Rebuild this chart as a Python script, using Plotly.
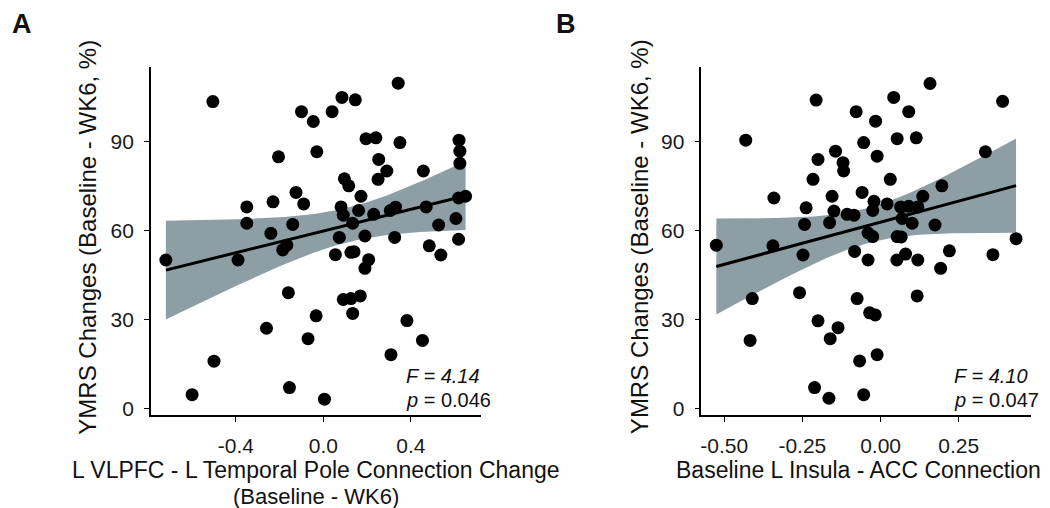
import numpy as np
import plotly.graph_objects as go

# Panel A data: L VLPFC - L Temporal Pole connection change vs YMRS change
a_x = [-0.72, -0.60, -0.505, -0.50, -0.39, -0.35, -0.35, -0.26, -0.24, -0.23,
       -0.205, -0.186, -0.167, -0.16, -0.155, -0.14, -0.125, -0.10, -0.09, -0.07,
       -0.046, -0.033, -0.03, 0.005, 0.04, 0.055, 0.073, 0.081, 0.085, 0.091,
       0.091, 0.096, 0.116, 0.126, 0.126, 0.134, 0.134, 0.14, 0.146, 0.161,
       0.169, 0.172, 0.19, 0.19, 0.195, 0.207, 0.23, 0.24, 0.25, 0.253,
       0.29, 0.306, 0.309, 0.326, 0.33, 0.342, 0.35, 0.382, 0.453, 0.457,
       0.47, 0.484, 0.527, 0.537, 0.606, 0.618, 0.618, 0.62, 0.624, 0.624, 0.65]
a_y = [50.2, 4.8, 103.6, 16.1, 50.2, 68.1, 62.6, 27.2, 59.2, 69.8,
       85.0, 53.6, 55.2, 39.2, 7.2, 62.2, 73.0, 100.2, 69.1, 23.7,
       96.9, 31.4, 86.7, 3.3, 100.2, 52.0, 57.8, 68.1, 105.0, 65.3,
       36.9, 77.6, 75.2, 52.8, 37.2, 62.6, 32.2, 53.0, 104.2, 66.9,
       38.1, 71.7, 58.3, 47.4, 91.1, 50.3, 65.6, 91.4, 77.4, 84.1,
       80.2, 66.9, 18.3, 57.8, 68.0, 109.8, 89.8, 29.8, 23.1, 80.2,
       68.1, 55.0, 62.0, 51.9, 64.2, 57.2, 71.1, 90.6, 86.9, 82.8, 71.7]

# Panel B data: Baseline L Insula - ACC connection vs YMRS change
b_x = [-0.525, -0.431, -0.417, -0.41, -0.344, -0.341, -0.259, -0.248, -0.243, -0.238,
       -0.216, -0.211, -0.206, -0.20, -0.20, -0.165, -0.163, -0.161, -0.155, -0.149,
       -0.144, -0.136, -0.12, -0.118, -0.107, -0.085, -0.083, -0.078, -0.075, -0.067,
       -0.059, -0.054, -0.054, -0.04, -0.04, -0.035, -0.025, -0.025, -0.021, -0.017,
       -0.016, -0.011, -0.011, 0.021, 0.031, 0.042, 0.052, 0.053, 0.053, 0.064,
       0.066, 0.069, 0.08, 0.09, 0.09, 0.101, 0.114, 0.117, 0.119, 0.119,
       0.135, 0.158, 0.174, 0.192, 0.196, 0.22, 0.335, 0.359, 0.39, 0.433]
b_y = [55.2, 90.6, 23.1, 37.2, 55.0, 71.1, 39.2, 51.9, 62.2, 67.8,
       77.4, 7.2, 104.1, 84.1, 29.7, 3.6, 62.8, 23.7, 71.7, 66.7,
       86.9, 27.4, 83.0, 80.2, 65.6, 65.3, 53.1, 100.2, 37.2, 16.2,
       73.0, 89.8, 4.8, 59.3, 50.2, 32.4, 66.9, 58.1, 70.0, 31.7,
       97.0, 85.2, 18.3, 69.1, 77.4, 105.0, 50.2, 91.1, 58.1, 68.1,
       58.0, 64.2, 52.2, 100.2, 68.3, 62.6, 91.4, 38.1, 68.1, 50.2,
       71.7, 109.7, 62.0, 47.4, 75.2, 53.3, 86.7, 52.0, 103.7, 57.4]

a_stats = ["<i>F = 4.14</i>", "<i>p</i> = 0.046"]
b_stats = ["<i>F = 4.10</i>", "<i>p</i> = 0.047"]

a_ticks = [-0.4, 0.0, 0.4]
a_ticktext = ["-0.4", "0.0", "0.4"]
b_ticks = [-0.50, -0.25, 0.00, 0.25]
b_ticktext = ["-0.50", "-0.25", "0.00", "0.25"]
y_ticks = [0, 30, 60, 90]

W, H = 1050, 508
FONT = "Liberation Sans, Arial, sans-serif"
BAND = "#8e9ea5"
T_CRIT = 1.995  # t(0.975, df=68)


def px(x):
    return x / W


def py(y):
    return 1 - y / H


def fit(xs, ys):
    x = np.asarray(xs)
    y = np.asarray(ys)
    n = len(x)
    b1, b0 = np.polyfit(x, y, 1)
    resid = y - (b0 + b1 * x)
    s = np.sqrt(np.sum(resid ** 2) / (n - 2))
    sxx = np.sum((x - x.mean()) ** 2)
    grid = np.linspace(x.min(), x.max(), 100)
    yhat = b0 + b1 * grid
    se = s * np.sqrt(1 / n + (grid - x.mean()) ** 2 / sxx)
    return grid, yhat, yhat - T_CRIT * se, yhat + T_CRIT * se


fig = go.Figure()

panels = [
    (a_x, a_y, "x", "y"),
    (b_x, b_y, "x2", "y2"),
]
for xs, ys, xa, ya in panels:
    g, yh, lo, hi = fit(xs, ys)
    fig.add_trace(go.Scatter(x=np.concatenate([g, g[::-1]]),
                             y=np.concatenate([hi, lo[::-1]]),
                             fill="toself", fillcolor=BAND, line=dict(width=0),
                             mode="lines", hoverinfo="skip",
                             xaxis=xa, yaxis=ya, showlegend=False))
    fig.add_trace(go.Scatter(x=xs, y=ys, mode="markers",
                             marker=dict(color="black", size=13, line=dict(width=0)),
                             xaxis=xa, yaxis=ya, showlegend=False))
    fig.add_trace(go.Scatter(x=g, y=yh, mode="lines",
                             line=dict(color="black", width=3),
                             xaxis=xa, yaxis=ya, showlegend=False))


def xr(vals):
    lo, hi = min(vals), max(vals)
    e = 0.05 * (hi - lo)
    return [lo - e, hi + e]


yrng = xr(a_y + b_y)

axis_common = dict(showline=True, linecolor="black", linewidth=1.6,
                   ticks="outside", ticklen=5, tickwidth=1.4, tickcolor="black",
                   showgrid=False, zeroline=False, ticklabelstandoff=6,
                   tickfont=dict(family=FONT, size=21, color="#1a1a1a"))

fig.update_layout(
    width=W, height=H,
    margin=dict(l=0, r=0, t=0, b=0),
    paper_bgcolor="white", plot_bgcolor="white",
    xaxis=dict(domain=[px(142), px(472)], range=xr(a_x), anchor="y",
               tickvals=a_ticks, ticktext=a_ticktext, **axis_common),
    yaxis=dict(domain=[py(411), py(60)], range=yrng, anchor="x",
               tickvals=y_ticks, **axis_common),
    xaxis2=dict(domain=[px(693), px(1023)], range=xr(b_x), anchor="y2",
                tickvals=b_ticks, ticktext=b_ticktext, **axis_common),
    yaxis2=dict(domain=[py(411), py(60)], range=yrng, anchor="x2",
                tickvals=y_ticks, **axis_common),
)

ann = []


def text(x, y, s, size=20, xanchor="center", angle=0):
    ann.append(dict(x=px(x), y=py(y), xref="paper", yref="paper", text=s,
                    showarrow=False, xanchor=xanchor, yanchor="middle",
                    textangle=angle,
                    font=dict(family=FONT, size=size, color="#111111")))


text(13, 16, "<b>A</b>", size=27)
text(558, 16, "<b>B</b>", size=27)
ytitle = "YMRS Changes (Baseline - WK6, %)"
text(79, 231, ytitle, size=24, angle=-90)
text(631, 231, ytitle, size=24, angle=-90)
text(307, 467, "L VLPFC - L Temporal Pole Connection Change", size=23)
text(307, 493, "(Baseline - WK6)", size=22)
text(850, 467, "Baseline L Insula - ACC Connection", size=23)
text(395, 372, a_stats[0], xanchor="left")
text(395, 396, a_stats[1], xanchor="left")
text(944, 372, b_stats[0], xanchor="left")
text(944, 396, b_stats[1], xanchor="left")

fig.update_layout(annotations=ann)
fig.write_html("out.html")
